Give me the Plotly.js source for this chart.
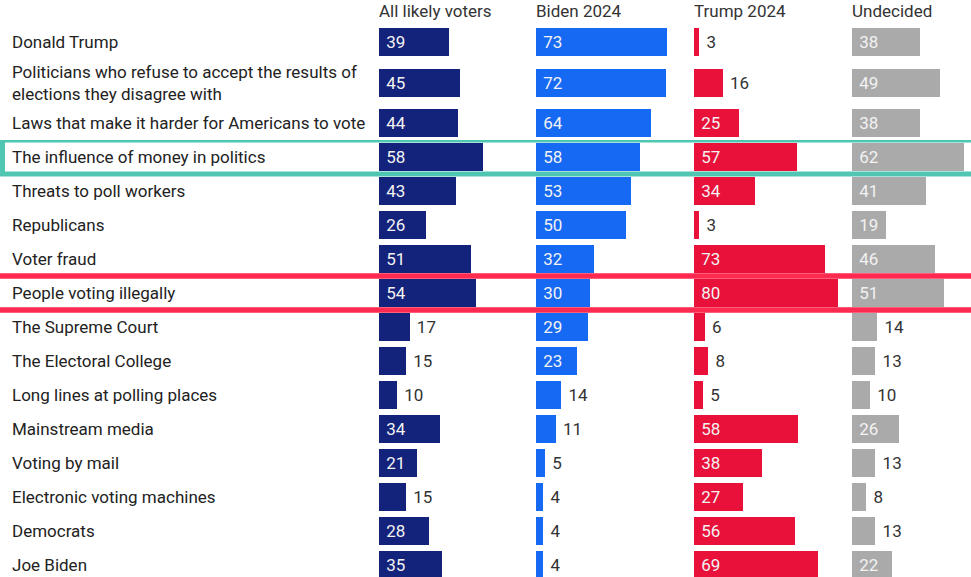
<!DOCTYPE html>
<html>
<head>
<meta charset="utf-8">
<script src="https://cdn.plot.ly/plotly-3.0.1.min.js"></script>
<style>html,body{margin:0;padding:0;background:#fff;}#chart{width:971px;height:577px;}</style>
</head>
<body>
<div id="chart"></div>
<script>
const categories = [
  "Donald Trump",
  "Politicians who refuse to accept the results of<br>elections they disagree with",
  "Laws that make it harder for Americans to vote",
  "The influence of money in politics",
  "Threats to poll workers",
  "Republicans",
  "Voter fraud",
  "People voting illegally",
  "The Supreme Court",
  "The Electoral College",
  "Long lines at polling places",
  "Mainstream media",
  "Voting by mail",
  "Electronic voting machines",
  "Democrats",
  "Joe Biden"
];
const columnTitles = ["All likely voters", "Biden 2024", "Trump 2024", "Undecided"];
const allLikely = [39, 45, 44, 58, 43, 26, 51, 54, 17, 15, 10, 34, 21, 15, 28, 35];
const biden2024 = [73, 72, 64, 58, 53, 50, 32, 30, 29, 23, 14, 11, 5, 4, 4, 4];
const trump2024 = [3, 16, 25, 57, 34, 3, 73, 80, 6, 8, 5, 58, 38, 27, 56, 69];
const undecided = [38, 49, 38, 62, 41, 19, 46, 51, 14, 13, 10, 26, 13, 8, 13, 22];
const highlightTeal = "The influence of money in politics";
const highlightRed = "People voting illegally";

const series = [allLikely, biden2024, trump2024, undecided];
const colors = ["#13227a", "#1669f2", "#e9103a", "#aaaaaa"];

const W = 971, H = 577;
const FS = 17;
const pxPerUnit = 1.8;
const colStarts = [379, 536, 694, 852];
const colWidths = [150, 150, 150, 119];
const topCount = 3;
const topRowPx = 40.5, botRowPx = 34;
const splitPx = 140, topPx = 22;

const traces = [];
const layout = {
  width: W, height: H,
  margin: {l: 0, r: 0, t: 0, b: 0},
  paper_bgcolor: "#fff", plot_bgcolor: "rgba(0,0,0,0)",
  showlegend: false,
  font: {family: "Roboto, sans-serif", size: FS, color: "#333"},
  bargap: 0,
  annotations: [],
  shapes: []
};

const topCats = categories.slice(0, topCount);
const botCats = categories.slice(topCount);

const topUnits = (splitPx - topPx) / topRowPx;
const topStart = -0.494;
layout.yaxis = {
  domain: [1 - splitPx / H, 1 - topPx / H],
  type: "category", categoryorder: "array", categoryarray: topCats,
  range: [topStart + topUnits, topStart], visible: false, fixedrange: true
};
const botUnits = (H - splitPx) / botRowPx;
layout.yaxis2 = {
  domain: [0, 1 - splitPx / H],
  type: "category", categoryorder: "array", categoryarray: botCats,
  range: [-0.5 + botUnits, -0.5], visible: false, fixedrange: true
};

series.forEach((vals, c) => {
  const xa = c === 0 ? "x" : "x" + (c + 1);
  const xkey = c === 0 ? "xaxis" : "xaxis" + (c + 1);
  layout[xkey] = {
    domain: [colStarts[c] / W, (colStarts[c] + colWidths[c]) / W],
    range: [0, colWidths[c] / pxPerUnit],
    visible: false, fixedrange: true, anchor: "y2"
  };
  [[0, topCount, "y", topRowPx], [topCount, categories.length, "y2", botRowPx]].forEach(([a, b, ya, rowPx]) => {
    const v = vals.slice(a, b);
    traces.push({
      type: "bar", orientation: "h",
      x: v, y: categories.slice(a, b),
      xaxis: xa, yaxis: ya,
      width: 28 / rowPx,
      marker: {color: colors[c], line: {width: 0}},
      text: v.map(d => "\u00a0" + d),
      textposition: v.map(d => d >= 18 ? "inside" : "outside"),
      insidetextanchor: "start",
      constraintext: "none",
      textangle: 0,
      insidetextfont: {family: "Roboto, sans-serif", size: FS, color: "#f2f2f2"},
      outsidetextfont: {family: "Roboto, sans-serif", size: FS, color: "#333"},
      cliponaxis: false,
      hoverinfo: "skip"
    });
  });
  layout.annotations.push({
    text: columnTitles[c], xref: "paper", yref: "paper",
    x: (colStarts[c] - 2) / W, xanchor: "left",
    y: 1 - 11 / H, yanchor: "middle",
    showarrow: false, font: {size: FS, color: "#333"}
  });
});

categories.forEach((cat, i) => {
  layout.annotations.push({
    text: cat, xref: "paper", x: 10 / W, xanchor: "left", align: "left",
    yref: i < topCount ? "y" : "y2", y: cat, yanchor: "middle",
    showarrow: false, font: {size: FS, color: "#222"}
  });
});

const ti = botCats.indexOf(highlightTeal);
layout.shapes.push({
  type: "rect", xref: "paper", yref: "y2",
  x0: 2.5 / W, x1: 1.02, y0: ti - 0.5, y1: ti + 0.5,
  line: {color: "#4fc6b1", width: 5}, fillcolor: "rgba(0,0,0,0)", layer: "above"
});
const ri = botCats.indexOf(highlightRed);
layout.shapes.push({
  type: "rect", xref: "paper", yref: "y2",
  x0: -0.02, x1: 1.02, y0: ri - 0.5, y1: ri + 0.5,
  line: {color: "#ff2a50", width: 5.5}, fillcolor: "rgba(0,0,0,0)", layer: "above"
});

Plotly.newPlot("chart", traces, layout, {displayModeBar: false, staticPlot: true});
</script>
</body>
</html>
